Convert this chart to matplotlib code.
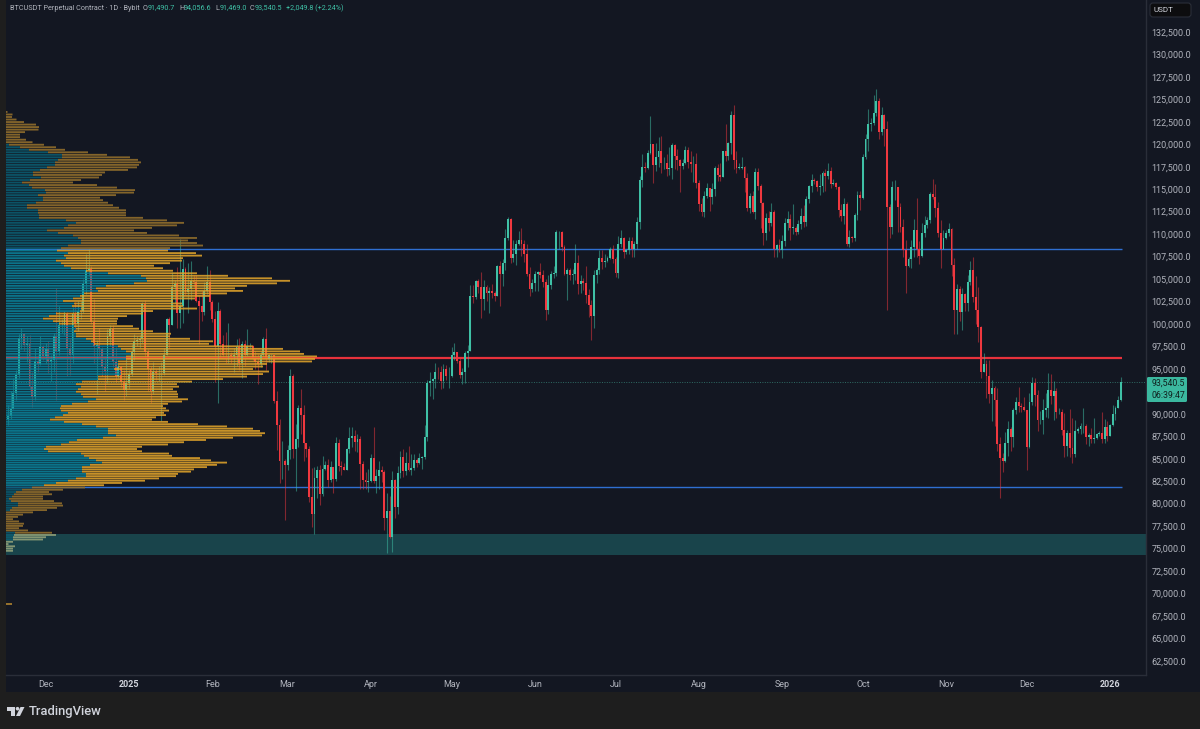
#!/usr/bin/env python3

"""BTCUSDT daily candles with a fixed range volume profile"""

import numpy as np
import pandas as pd
import matplotlib
matplotlib.use("Agg")
from matplotlib import pyplot as plt
from matplotlib import dates as mdates
from matplotlib.patches import Rectangle, FancyBboxPatch, Polygon, Circle
from matplotlib.transforms import Affine2D

# daily closes / highs / lows in thousands, one line per month, first day 2024-11-17
first_open = 89.4
closes = [
    89.8, 90.5, 92.3, 94.3, 98.4, 98.9, 97.7, 97.9, 93.0, 91.9, 95.9, 95.6, 97.4, 96.4,
    97.2, 95.8, 96.0, 98.7, 97.0, 99.9, 99.9, 101.1, 97.3, 96.6, 101.1, 100.0, 101.4, 101.4, 104.4, 106.0, 106.1, 100.2, 97.5, 97.7, 97.2, 95.2, 94.8, 98.7, 99.4, 95.8, 94.2, 95.2, 93.5, 92.7, 93.4,
    94.4, 96.9, 98.1, 98.2, 98.3, 102.2, 96.9, 95.0, 92.5, 94.7, 94.5, 94.5, 94.5, 96.5, 100.5, 99.9, 104.1, 104.4, 101.2, 102.0, 106.1, 103.6, 103.9, 104.8, 104.7, 102.6, 102.0, 101.3, 103.7, 104.7, 102.4,
    100.6, 97.6, 101.4, 97.8, 96.6, 96.5, 96.5, 96.4, 96.5, 97.4, 95.7, 97.8, 96.6, 97.5, 97.5, 96.1, 95.8, 95.5, 96.6, 98.3, 96.1, 96.5, 96.5, 91.4, 88.7, 84.7, 84.7, 84.3,
    86.0, 94.2, 86.1, 87.2, 90.6, 89.9, 86.7, 86.1, 80.7, 78.8, 82.9, 83.7, 81.1, 83.9, 84.3, 82.6, 84.1, 82.7, 86.8, 84.2, 84.1, 83.8, 86.1, 87.3, 87.5, 86.9, 87.2, 84.4, 82.6, 82.4, 82.5,
    85.1, 82.5, 83.1, 83.8, 83.5, 78.4, 79.2, 76.3, 82.6, 79.6, 83.4, 85.2, 83.6, 84.5, 83.7, 84.0, 84.9, 84.5, 85.1, 85.2, 87.4, 93.4, 93.7, 93.9, 94.7, 94.6, 93.7, 95.0, 94.2, 94.2,
    96.5, 96.9, 95.9, 94.3, 94.7, 96.8, 97.0, 103.1, 103.0, 104.8, 104.1, 102.8, 104.1, 103.5, 103.7, 103.5, 103.1, 106.4, 105.6, 106.8, 109.6, 111.7, 107.3, 107.8, 108.9, 109.4, 108.9, 107.8, 105.6, 103.9, 104.6,
    105.6, 105.8, 105.4, 104.7, 101.5, 104.3, 105.6, 105.7, 110.2, 110.2, 108.6, 105.6, 106.0, 105.4, 105.6, 106.8, 104.5, 104.8, 104.6, 103.2, 102.1, 100.9, 105.4, 106.0, 107.3, 106.9, 107.0, 107.3, 108.4, 107.2,
    105.7, 108.9, 109.6, 108.0, 108.2, 109.2, 108.3, 108.9, 111.3, 116.0, 117.5, 117.4, 119.0, 120.0, 117.7, 118.6, 119.3, 117.9, 117.9, 117.3, 117.4, 119.9, 118.7, 118.3, 117.6, 117.9, 119.4, 118.0, 117.8, 117.8, 115.7,
    113.3, 112.5, 114.2, 115.1, 114.1, 115.0, 117.4, 116.6, 116.4, 119.2, 118.7, 120.1, 123.3, 118.3, 117.4, 117.4, 117.5, 116.2, 112.9, 114.2, 112.5, 116.9, 115.4, 113.5, 110.1, 111.8, 111.2, 112.5, 108.4, 108.8, 108.2,
    109.2, 111.2, 111.7, 110.7, 110.7, 110.2, 111.1, 112.0, 111.4, 113.9, 115.4, 116.0, 115.9, 115.2, 115.4, 116.8, 116.5, 117.0, 115.6, 115.7, 115.3, 112.7, 112.0, 113.3, 108.9, 109.7, 109.6, 112.1, 114.4, 114.0,
    118.6, 120.6, 122.3, 122.4, 123.5, 124.8, 121.4, 123.3, 121.7, 113.0, 110.8, 115.2, 115.3, 113.0, 110.8, 108.2, 106.4, 107.2, 108.6, 110.5, 108.3, 107.6, 110.1, 111.0, 111.6, 114.5, 114.1, 112.9, 110.1, 108.3, 109.6,
    110.1, 110.6, 106.6, 101.5, 103.9, 101.3, 103.3, 102.3, 104.7, 106.0, 103.0, 101.6, 99.7, 94.6, 95.6, 94.2, 92.2, 92.9, 91.5, 86.6, 85.1, 84.7, 86.8, 88.3, 87.4, 90.4, 91.3, 90.9, 90.8, 90.4,
    86.3, 91.3, 93.4, 92.1, 89.3, 89.3, 90.4, 90.6, 92.6, 92.0, 92.5, 90.2, 90.2, 88.2, 86.4, 87.9, 86.2, 85.5, 88.1, 88.3, 88.6, 88.6, 87.4, 87.6, 87.2, 87.3, 87.8, 87.9, 87.2, 88.5, 87.5,
    88.7, 90.0, 90.6, 91.5, 93.54,
]
highs = [
    91.0, 92.5, 94.0, 94.9, 98.9, 99.6, 99.0, 98.7, 98.8, 94.7, 97.3, 96.6, 98.7, 97.7,
    97.9, 98.1, 96.5, 99.0, 104.0, 102.0, 100.5, 101.4, 101.3, 98.3, 101.9, 102.5, 102.6, 102.6, 105.0, 107.8, 108.3, 106.5, 102.8, 98.2, 99.5, 97.4, 96.4, 99.4, 99.9, 99.9, 97.4, 95.6, 95.3, 94.9, 96.1,
    94.9, 97.8, 98.9, 98.7, 98.8, 102.5, 102.7, 97.2, 95.3, 95.8, 95.0, 95.3, 95.8, 97.3, 100.7, 100.8, 105.8, 104.9, 106.3, 109.5, 107.2, 106.3, 106.8, 107.0, 105.4, 105.4, 103.2, 103.7, 104.7, 106.4, 106.0,
    102.7, 101.4, 102.4, 101.7, 98.8, 99.1, 100.1, 96.9, 97.3, 98.3, 98.4, 98.1, 98.2, 99.4, 97.9, 97.7, 97.0, 96.7, 97.0, 98.6, 99.5, 96.7, 96.7, 96.5, 92.5, 89.4, 87.0, 85.0,
    86.5, 95.0, 94.4, 88.9, 91.0, 92.8, 91.0, 86.8, 86.4, 84.0, 84.1, 84.2, 84.3, 85.3, 84.7, 85.0, 84.7, 84.1, 87.4, 87.2, 84.8, 84.5, 86.2, 88.5, 88.5, 88.2, 87.8, 87.5, 84.7, 83.5, 83.9,
    85.5, 88.5, 83.9, 84.7, 84.2, 83.8, 81.2, 80.9, 83.6, 82.7, 84.2, 85.9, 86.1, 85.8, 86.4, 85.5, 85.5, 85.1, 85.6, 85.3, 88.8, 93.8, 94.6, 94.0, 95.7, 95.2, 95.3, 95.6, 95.4, 95.2,
    97.4, 97.9, 96.9, 96.3, 95.1, 97.0, 97.7, 104.3, 104.3, 104.9, 105.0, 105.8, 104.9, 104.3, 104.1, 104.5, 103.7, 106.6, 107.0, 107.2, 110.6, 111.9, 111.8, 109.4, 109.3, 110.4, 110.7, 109.3, 108.9, 106.3, 105.0,
    105.9, 105.9, 106.8, 106.0, 105.0, 105.4, 105.9, 106.4, 110.5, 110.4, 110.4, 108.8, 106.2, 106.2, 106.1, 108.9, 107.7, 105.5, 105.1, 106.4, 103.9, 102.7, 106.0, 106.2, 108.2, 108.2, 107.8, 107.6, 108.6, 108.8,
    107.5, 109.8, 110.5, 109.7, 108.4, 109.7, 109.7, 109.2, 111.9, 116.5, 118.9, 118.0, 119.4, 123.2, 120.0, 120.1, 120.8, 120.9, 118.6, 118.9, 119.7, 120.1, 120.0, 119.5, 118.4, 118.4, 119.8, 119.7, 119.2, 118.7, 119.0,
    116.0, 114.0, 114.8, 115.7, 115.1, 115.7, 117.6, 117.8, 117.9, 119.3, 122.3, 120.3, 123.7, 124.4, 119.3, 117.9, 118.6, 117.6, 116.8, 114.6, 114.8, 117.4, 117.4, 115.6, 113.6, 112.4, 112.6, 113.5, 112.7, 108.9, 109.5,
    109.9, 111.8, 112.6, 112.2, 113.3, 110.9, 111.6, 112.9, 113.2, 114.3, 115.5, 116.7, 116.3, 116.0, 116.7, 117.0, 117.3, 117.9, 117.5, 116.1, 115.8, 115.4, 113.4, 114.0, 113.6, 110.5, 109.8, 112.4, 114.8, 114.8,
    118.9, 121.1, 123.9, 122.9, 125.5, 126.2, 125.1, 124.2, 123.4, 122.6, 113.4, 115.9, 116.0, 115.3, 113.5, 111.7, 109.3, 107.5, 109.4, 111.7, 114.0, 109.2, 111.2, 112.0, 111.9, 114.7, 116.1, 115.6, 113.6, 111.6, 110.5,
    110.5, 111.2, 110.7, 107.3, 104.5, 104.2, 104.0, 103.5, 105.4, 107.0, 107.5, 105.3, 104.1, 99.8, 96.8, 96.0, 96.0, 93.8, 93.1, 92.9, 87.4, 85.6, 88.0, 89.2, 88.5, 90.6, 91.9, 93.0, 91.2, 91.9,
    90.4, 92.3, 94.1, 94.0, 92.7, 90.3, 91.7, 92.3, 94.5, 94.4, 93.7, 92.9, 90.6, 90.5, 90.1, 88.2, 90.5, 89.5, 89.3, 88.5, 89.0, 90.6, 88.9, 87.9, 88.4, 89.5, 87.9, 88.1, 90.2, 89.4, 89.2,
    88.9, 91.0, 90.9, 92.0, 94.06,
]
lows = [
    88.7, 89.4, 90.5, 91.5, 94.0, 97.2, 97.0, 95.8, 92.6, 90.8, 91.5, 94.6, 95.4, 96.0,
    95.7, 94.5, 93.6, 94.7, 91.5, 96.5, 99.0, 98.8, 94.2, 94.3, 95.7, 99.3, 99.2, 100.6, 101.2, 103.3, 105.3, 100.0, 95.7, 92.2, 96.4, 94.2, 92.5, 93.4, 97.6, 95.2, 93.5, 94.0, 93.0, 91.5, 92.0,
    92.8, 94.2, 96.0, 97.5, 97.3, 97.9, 96.1, 92.5, 91.2, 92.2, 93.8, 93.7, 89.2, 94.3, 96.5, 97.3, 99.9, 102.3, 99.5, 99.5, 100.1, 103.2, 101.2, 102.7, 104.1, 102.5, 97.8, 100.3, 101.0, 103.3, 101.5,
    100.2, 93.5, 91.2, 96.2, 96.2, 95.7, 95.7, 95.7, 94.7, 95.3, 94.9, 94.0, 95.3, 96.4, 97.2, 96.0, 95.0, 93.3, 95.2, 96.4, 94.9, 95.8, 95.7, 91.2, 86.0, 82.3, 82.7, 78.2,
    83.8, 85.0, 85.1, 81.4, 86.3, 87.8, 84.7, 85.2, 80.2, 77.4, 76.6, 80.6, 79.9, 80.8, 83.7, 81.9, 82.4, 81.2, 82.5, 83.6, 83.2, 83.7, 83.8, 85.6, 86.3, 85.9, 85.8, 81.6, 81.6, 81.6, 81.3,
    82.4, 82.3, 81.2, 81.6, 82.4, 77.1, 74.5, 76.2, 74.6, 78.4, 78.9, 82.8, 83.0, 83.2, 83.6, 83.2, 83.8, 84.1, 84.4, 83.9, 85.0, 87.0, 92.0, 91.7, 92.9, 93.9, 92.8, 92.9, 93.8, 92.9,
    94.1, 96.0, 95.7, 94.0, 93.3, 93.4, 95.2, 97.0, 102.3, 102.8, 103.4, 100.7, 101.5, 102.6, 101.2, 102.9, 102.6, 103.1, 102.0, 104.2, 106.0, 109.3, 106.8, 106.9, 106.6, 108.8, 107.6, 106.9, 105.3, 103.1, 103.6,
    103.7, 103.7, 105.1, 104.1, 100.4, 101.1, 103.9, 105.1, 105.3, 108.4, 108.1, 105.4, 102.7, 104.9, 104.5, 104.9, 103.3, 103.4, 103.8, 102.3, 100.8, 98.2, 99.6, 104.6, 105.6, 106.1, 106.3, 106.9, 107.2, 106.8,
    105.2, 105.1, 108.6, 107.3, 107.8, 107.8, 107.5, 107.5, 108.4, 110.6, 115.2, 116.9, 117.3, 118.9, 115.7, 117.0, 117.5, 116.8, 117.2, 116.5, 116.6, 116.1, 117.3, 117.1, 114.7, 117.2, 117.8, 117.4, 116.9, 115.8, 115.1,
    112.6, 112.0, 111.9, 114.0, 112.6, 113.3, 114.3, 115.9, 115.9, 116.5, 118.1, 118.2, 118.9, 117.2, 116.8, 117.2, 117.3, 114.7, 112.6, 112.4, 112.4, 111.7, 114.9, 110.7, 108.8, 109.3, 110.4, 110.9, 107.5, 107.4, 108.0,
    107.3, 108.7, 110.5, 109.3, 110.0, 109.9, 110.0, 110.6, 110.8, 110.9, 113.5, 114.7, 115.6, 114.8, 114.4, 114.7, 114.8, 116.1, 115.1, 115.5, 115.0, 111.9, 111.5, 111.1, 108.7, 108.6, 109.1, 109.2, 111.6, 112.7,
    113.9, 118.4, 119.3, 121.5, 122.2, 123.1, 120.6, 121.0, 119.8, 101.5, 109.6, 110.0, 113.8, 110.2, 110.2, 107.4, 103.5, 106.3, 106.2, 107.4, 107.4, 106.7, 107.4, 109.7, 110.7, 111.2, 113.9, 111.9, 109.7, 106.2, 108.6,
    109.5, 109.8, 105.3, 98.9, 98.9, 100.3, 99.3, 101.4, 101.4, 104.3, 102.5, 100.0, 98.0, 94.0, 94.6, 91.8, 91.2, 89.2, 88.6, 85.9, 80.6, 83.5, 84.6, 85.3, 85.9, 86.3, 90.0, 90.2, 90.2, 90.3,
    83.8, 86.2, 91.0, 90.9, 88.1, 88.9, 87.7, 89.6, 89.5, 91.1, 89.3, 89.5, 90.0, 87.6, 85.2, 85.3, 85.2, 84.5, 85.2, 87.9, 87.7, 87.9, 86.6, 86.4, 86.7, 86.7, 87.2, 87.5, 86.7, 86.8, 87.0,
    87.6, 88.6, 89.3, 90.6, 91.47,
]

# volume profile, upper block of rows then lower block, top to bottom, widths in chart pixels
upper_total = [
    1.5, 6.5, 6, 10.5, 18, 30, 33, 32.5, 19, 14, 14, 20, 26.5, 38, 50, 59, 82, 101, 124, 132, 135, 133, 131, 122, 99, 96, 93, 75, 67, 91, 111, 129, 128, 110, 94,
    97, 102, 107, 113, 120, 120, 120, 137, 161, 178, 171, 146, 128, 141, 173, 191, 182, 191, 197, 164, 162, 190, 196, 177, 176, 164, 148, 157, 167, 191, 222, 266, 284, 271, 241, 229, 237, 221, 204, 189, 167, 176, 177, 191, 147, 137, 121, 112, 111, 111, 127, 133, 147, 165, 164, 184, 207, 203, 247, 277, 294, 298, 311, 309, 306, 261, 257, 247, 263, 257, 241, 217, 186, 171, 173, 167, 171, 172, 172,
]
upper_up = [
    0, 0, 0, 0, 0, 0, 0, 0, 0, 0, 0, 0, 0, 3, 14, 23, 42, 56, 56, 52, 49, 49, 41, 34, 27, 27, 35, 24, 16, 23, 26, 39, 40, 32, 37,
    37, 30, 21, 21, 32, 32, 33, 33, 60, 70, 62, 58, 41, 52, 67, 72, 75, 75, 62, 55, 51, 62, 58, 60, 50, 55, 58, 65, 80, 102, 135, 140, 141, 128, 100, 90, 92, 78, 74, 67, 57, 68, 66, 75, 74, 50, 43, 37, 47, 53, 68, 70, 68, 70, 70, 80, 85, 88, 112, 115, 120, 125, 120, 120, 112, 112, 112, 108, 115, 115, 92, 92, 76, 70, 75, 72, 70, 75, 77,
]
lower_total = [
    182, 176, 162, 157, 160, 163, 158, 160, 150, 146, 162, 192, 221, 247, 254, 259, 256, 227, 200, 178, 162, 136, 131, 136, 163, 166, 194, 205, 221, 211, 201, 188, 185, 172, 170, 153, 139, 116, 98, 79, 57, 43, 46, 37, 37, 48, 56, 57, 51, 41, 27, 17, 12, 7, 13, 18, 17, 13, 22, 46, 50, 40, 37, 7, 2.5, 9, 7, 7,
]
lower_up = [
    90, 82, 66, 55, 54, 55, 62, 57, 49, 44, 58, 76, 90, 102, 102, 102, 110, 97, 71, 63, 55, 40, 38, 42, 75, 78, 83, 90, 96, 84, 76, 76, 76, 80, 80, 70, 62, 50, 38, 26, 16, 10, 8, 6, 3, 5, 12, 12, 6, 4, 0, 0, 0, 0, 0, 0, 0, 0, 0, 9, 8, 7, 7, 0, 0, 0, 0, 0,
]
profile_top_price = 123600
profile_split_price = 91900
profile_bottom_price = 74750
stray_price = 68800
stray_width = 6

# horizontal levels
poc_price = 96200
vah_price = 108400
val_price = 81900
last_price = 93540.5
zone_top = 76620
zone_bottom = 74280

# 92,500 sits behind the last price badge, so it gets no label
price_ticks = [p for p in range(62500, 135000, 2500) if p != 92500]
month_labels = ["Dec", "2025", "Feb", "Mar", "Apr", "May", "Jun", "Jul", "Aug", "Sep", "Oct", "Nov", "Dec", "2026"]
month_dates = ["2024-12-01", "2025-01-01", "2025-02-01", "2025-03-01", "2025-04-01", "2025-05-01", "2025-06-01",
               "2025-07-01", "2025-08-01", "2025-09-01", "2025-10-01", "2025-11-01", "2025-12-01", "2026-01-01"]

BG = "#131722"
FRAME = "#1e1e1e"
GRID = "#2a2e39"
UP = "#3fc1a6"
DOWN = "#f0383f"
TEXT = "#b2b5be"

plt.rcParams['font.family'] = ['Roboto', 'DejaVu Sans']

figure = plt.figure(figsize=(12, 7.29), dpi=100, facecolor=FRAME)
# chrome is placed in image pixels, y going down
pixels = Affine2D().scale(1, -1).translate(0, 729)

figure.add_artist(Rectangle((6, 0), 1194, 692, transform=pixels, facecolor=BG, edgecolor="none", zorder=-1))

ax = figure.add_axes([6 / 1200, 54 / 729, 1140 / 1200, 675 / 729])
ax.set_facecolor(BG)

dates = pd.date_range("2024-11-17", periods=len(closes), freq="D")
x = mdates.date2num(dates)
c = np.array(closes) * 1000
o = np.concatenate(([first_open * 1000], c[:-1]))
h = np.maximum(np.array(highs) * 1000, np.maximum(o, c))
l = np.minimum(np.array(lows) * 1000, np.minimum(o, c))
up = c >= o

jan1 = mdates.date2num(pd.Timestamp("2025-01-01"))
ax.set_xlim(jan1 - 123 / 2.688, jan1 + 1017 / 2.688)
ax.set_ylim(60927, 136062)

ax.axhspan(zone_bottom, zone_top, color="#19444b", lw=0, zorder=1)
ax.axhline(last_price, color="#2f6b64", lw=0.7, ls=(0, (1, 1.5)), zorder=1.5)
line_end = x[-1] + 0.5
ax.hlines([vah_price, val_price], x[0] - 20, line_end, color="#2f6fd2", lw=1.0, zorder=2)
ax.hlines(poc_price, x[0] - 20, line_end, color="#e8323c", lw=1.6, zorder=2)

colors = np.where(up, UP, DOWN)
ax.vlines(x, l, h, color=colors, lw=0.8, alpha=0.5, zorder=3)
ax.bar(x, np.maximum(np.abs(c - o), 40), bottom=np.minimum(o, c), width=0.7, color=colors, lw=0, zorder=4)

ax.set_yticks(price_ticks)
ax.set_yticklabels([f"{p:,.1f}" for p in price_ticks])
ax.yaxis.tick_right()
ax.set_xticks(mdates.date2num(pd.to_datetime(month_dates)))
ax.set_xticklabels(month_labels)
ax.tick_params(axis="both", length=0, colors=TEXT, labelsize=6.5)
ax.tick_params(axis="y", pad=4)
ax.tick_params(axis="x", pad=3.5)
for label in ax.get_xticklabels():
    if label.get_text() in ("2025", "2026"):
        label.set_fontweight("bold")
        label.set_color("#d1d4dc")
for name, spine in ax.spines.items():
    spine.set_visible(name in ("right", "bottom"))
    spine.set_color(GRID)
    spine.set_linewidth(1.0)

# profile sits above the candles, translucent, in its own x scale
profile_ax = figure.add_axes(ax.get_position(), sharey=ax, zorder=2)
profile_ax.patch.set_alpha(0)
profile_ax.set_xlim(0, 1140)
profile_ax.axis("off")

total = np.array(upper_total + lower_total, dtype=float)
teal = np.minimum(np.array(upper_up + lower_up, dtype=float), total)
rows = np.concatenate((np.linspace(profile_top_price, profile_split_price, len(upper_total)),
                       np.linspace(profile_split_price - 280, profile_bottom_price, len(lower_total))))
row_h = 205
inside = (rows <= vah_price) & (rows >= val_price)
in_zone = (rows <= zone_top) & (rows >= zone_bottom)
orange_colors = np.where(in_zone, "#93a27a", np.where(inside, "#e0a32a", "#94702c"))
teal_colors = np.where(inside, "#0a8199", "#0b5c70")
profile_ax.barh(rows, teal, height=row_h, color=teal_colors, lw=0, alpha=0.88, snap=False)
profile_ax.barh(rows, total - teal, left=teal, height=row_h, color=orange_colors, lw=0, alpha=0.88, snap=False)
profile_ax.barh([stray_price], [stray_width], height=row_h, color="#94702c", lw=0)

# header line
header = [
    (10, "BTCUSDT Perpetual Contract · 1D · Bybit", "#b2b5be"),
    (143, "O", "#b2b5be"), (148, "91,490.7", UP),
    (179, "H", "#b2b5be"), (184, "94,056.6", UP),
    (215, "L", "#b2b5be"), (220, "91,469.0", UP),
    (250, "C", "#b2b5be"), (255, "93,540.5", UP),
    (286, "+2,049.8 (+2.24%)", UP),
]
for px, s, col in header:
    figure.text(px, 8, s, transform=pixels, color=col, fontsize=5.2, va="center", ha="left", zorder=6)

# price scale badges
figure.add_artist(FancyBboxPatch((1150, 3), 41, 14, boxstyle="round,pad=0,rounding_size=3", transform=pixels,
                                 facecolor="#0d0d0f", edgecolor="#2a2e39", lw=0.8, zorder=5))
figure.text(1154, 10, "USDT", transform=pixels, color="#d1d4dc", fontsize=5.8, va="center", ha="left", zorder=6)
figure.add_artist(FancyBboxPatch((1147, 377), 40, 25, boxstyle="round,pad=0,rounding_size=1.5", transform=pixels,
                                 facecolor="#3bb89f", edgecolor="none", zorder=5))
figure.text(1151.5, 383, f"{last_price:,.1f}", transform=pixels, color="#10201f", fontsize=6.3, va="center", ha="left", zorder=6)
figure.text(1151.5, 395, "06:39:47", transform=pixels, color="#10201f", fontsize=6.3, va="center", ha="left", zorder=6)

# TradingView mark
mark = "#d1d4dc"
figure.add_artist(Polygon([(7, 707), (15, 707), (15, 716), (11, 716), (11, 710.5), (7, 710.5)], closed=True,
                          transform=pixels, facecolor=mark, edgecolor="none", zorder=5))
figure.add_artist(Circle((17.5, 708.7), 1.8, transform=pixels, facecolor=mark, edgecolor="none", zorder=5))
figure.add_artist(Polygon([(20.5, 707), (24.5, 707), (20, 716), (16, 716)], closed=True,
                          transform=pixels, facecolor=mark, edgecolor="none", zorder=5))
figure.text(28.5, 711, "TradingView", transform=pixels, color=mark, fontsize=9.4, fontweight="medium",
            va="center", ha="left", zorder=6)

figure.savefig("out.png", dpi=100, facecolor=figure.get_facecolor())
